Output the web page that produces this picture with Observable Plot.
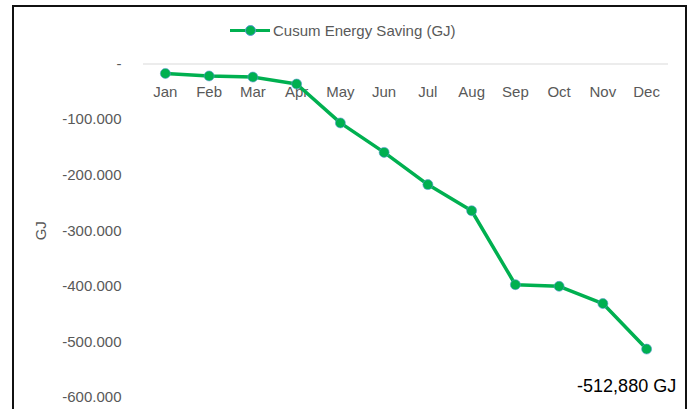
<!DOCTYPE html>
<html>
<head>
<meta charset="utf-8">
<script src="https://cdn.jsdelivr.net/npm/d3@7"></script>
<script src="https://cdn.jsdelivr.net/npm/@observablehq/plot@0.6"></script>
<style>
  html, body { margin: 0; padding: 0; background: #fff; }
  #wrap { position: relative; width: 691px; height: 409px; overflow: hidden; font-family: "Liberation Sans", Arial, sans-serif; }
  #frame { position: absolute; left: 12px; top: 5px; width: 671px; height: 420px; border: 2px solid #111; border-bottom: none; box-sizing: content-box; }
  #legend { position: absolute; left: 230px; top: 20px; height: 20px; display: flex; align-items: center; font-size: 15px; color: #595959; }
  #legend .sw { position: relative; width: 40px; height: 20px; margin-right: 3px; }
  #legend .sw .ln { position: absolute; left: 0; top: 8.5px; width: 40px; height: 3.5px; background: #00B050; }
  #legend .sw .dt { position: absolute; left: 15px; top: 5px; width: 9px; height: 9px; border-radius: 50%; background: #00B050; border: 0.6px solid #5b9bd5; }
  #chart { position: absolute; left: 0; top: 0; }
</style>
</head>
<body>
<div id="wrap">
  <div id="frame"></div>
  <div id="chart"></div>
  <div id="legend"><div class="sw"><div class="ln"></div><div class="dt"></div></div><span id="legendText"></span></div>
</div>
<script>
const months = ["Jan","Feb","Mar","Apr","May","Jun","Jul","Aug","Sep","Oct","Nov","Dec"];
const cusum = [-17000, -21500, -23500, -36000, -106000, -159000, -217000, -264000, -397000, -400000, -431000, -512880];
const yTicks = [0, -100000, -200000, -300000, -400000, -500000, -600000];
const seriesName = "Cusum Energy Saving (GJ)";
const yTitle = "GJ";
const annotation = "-512,880 GJ";

document.getElementById("legendText").textContent = seriesName;

const data = months.map((m, i) => ({month: m, value: cusum[i]}));
const loc = d3.formatLocale({decimal: ",", thousands: ".", grouping: [3], currency: ["", ""], minus: "-"});
const fmt = loc.format(",");

const chart = Plot.plot({
  width: 691,
  height: 409,
  marginLeft: 143,
  marginRight: 23,
  marginTop: 63.5,
  marginBottom: 12,
  style: {fontFamily: "'Liberation Sans', Arial, sans-serif", background: "transparent", overflow: "visible"},
  x: {type: "point", domain: months, padding: 0.5, round: false},
  y: {domain: [-600000, 0]},
  marks: [
    Plot.ruleY([0], {stroke: "#d9d9d9", strokeWidth: 1}),
    Plot.axisY({ticks: yTicks, tickSize: 0, tickPadding: 22, tickFormat: d => d === 0 ? "-" : fmt(d), fontSize: 15, fill: "#595959",
      label: yTitle, labelAnchor: "center", labelOffset: 108, labelArrow: "none"}),
    Plot.axisX({anchor: "top", tickSize: 0, tickPadding: 0, dy: 33, fontSize: 15, fill: "#595959", label: null}),
    Plot.line(data, {x: "month", y: "value", stroke: "#00B050", strokeWidth: 3.5, strokeLinejoin: "round"}),
    Plot.dot(data, {x: "month", y: "value", r: 5, fill: "#00B050", stroke: "#5b9bd5", strokeWidth: 0.6}),
    Plot.text(data.slice(-1), {x: "month", y: "value", text: () => annotation, dx: -20, dy: 37, fontSize: 18, fill: "#000"})
  ]
});
document.getElementById("chart").appendChild(chart);
</script>
</body>
</html>
